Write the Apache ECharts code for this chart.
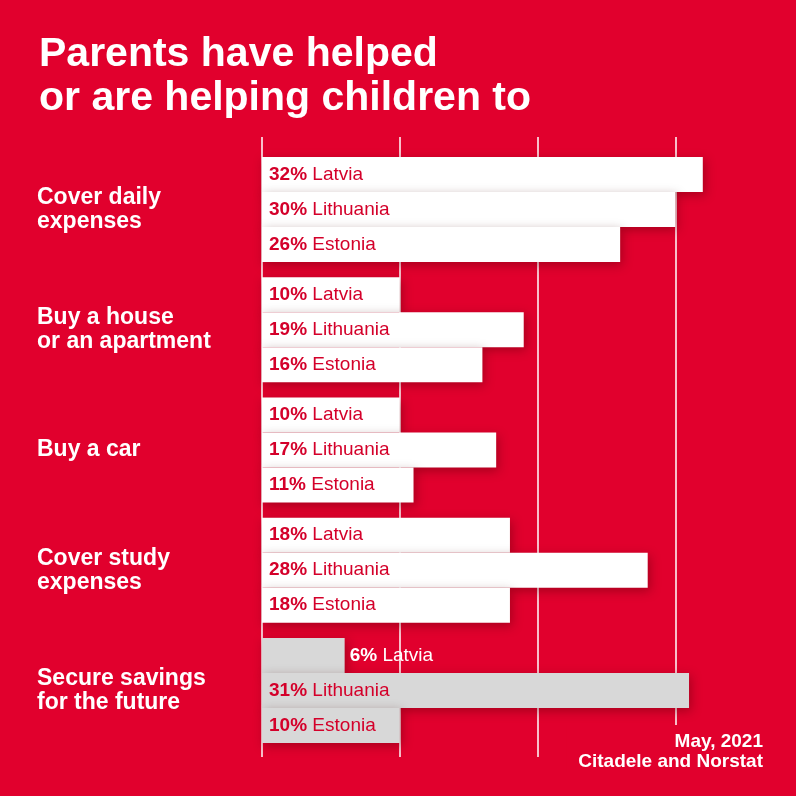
<!DOCTYPE html>
<html><head><meta charset="utf-8">
<script src="https://cdn.jsdelivr.net/npm/echarts@6/dist/echarts.min.js"></script>
<style>html,body{margin:0;padding:0;background:#E1002D;}#c{width:796px;height:796px;}</style>
</head><body><div id="c"></div>
<script>
const categories = ['Cover daily\nexpenses','Buy a house\nor an apartment','Buy a car','Cover study\nexpenses','Secure savings\nfor the future'];
const countries = ['Latvia','Lithuania','Estonia'];
const latvia = [32, 10, 10, 18, 6];
const lithuania = [30, 19, 17, 28, 31];
const estonia = [26, 16, 11, 18, 10];
const xTicks = [0, 10, 20, 30];
const titleText = 'Parents have helped\nor are helping children to';
const sourceText = 'May, 2021\nCitadele and Norstat';

const FONT = 'Liberation Sans, Arial, Helvetica, sans-serif';
const RED = '#E1002D';
const TXT_RED = '#D4002A';
const valuesBySeries = [latvia, lithuania, estonia];

function makeData(vals) {
  return vals.map((v, i) => {
    const item = { value: v };
    if (v < 8) {
      item.label = { position: 'right', distance: 5, rich: { b: { color: '#fff' }, n: { color: '#fff' } } };
    }
    return item;
  });
}

const series = countries.map((name, si) => ({
  name, type: 'bar', xAxisIndex: 0, yAxisIndex: 0,
  barWidth: 35, barGap: '0%',
  data: makeData(valuesBySeries[si]),
  itemStyle: {
    color: p => p.dataIndex === 4 ? '#D8D8D8' : '#FFFFFF',
    shadowColor: 'rgba(60,0,0,0.35)', shadowBlur: 10, shadowOffsetX: 2, shadowOffsetY: 3
  },
  label: {
    show: true, position: 'insideLeft', distance: 7,
    formatter: p => '{b|' + p.value + '%} {n|' + p.seriesName + '}',
    rich: {
      b: { fontFamily: FONT, fontWeight: 'bold', fontSize: 19, color: TXT_RED },
      n: { fontFamily: FONT, fontSize: 19, color: TXT_RED, padding: [0, 0, 0, 2] }
    }
  },
  z: 3
}));

const chart = echarts.init(document.getElementById('c'));
chart.setOption({
  backgroundColor: RED,
  animation: false,
  title: [{
    text: titleText, left: 34, top: 28,
    textStyle: { color: '#fff', fontFamily: FONT, fontWeight: 'bold', fontSize: 41, lineHeight: 44 }
  }],
  graphic: [{
    type: 'text', right: 33, top: 725, z: 100,
    style: { text: sourceText, fill: '#fff', fontFamily: FONT, fontWeight: 'bold', fontSize: 19, lineHeight: 20,
             textAlign: 'right', align: 'right', backgroundColor: RED, padding: [7, 0, 0, 12] }
  }],
  grid: [
    { left: 262, width: 551, top: 149.4, bottom: 45.4, outerBoundsMode: 'none', containLabel: false },
    { left: 262, width: 551, top: 137, bottom: 39, outerBoundsMode: 'none', containLabel: false }
  ],
  xAxis: [
    { gridIndex: 0, type: 'value', min: 0, max: 40, interval: 10, show: false, splitLine: { show: false } },
    { gridIndex: 1, type: 'value', min: xTicks[0], max: 40, interval: xTicks[1] - xTicks[0],
      axisLine: { show: false }, axisTick: { show: false }, axisLabel: { show: false },
      splitLine: { show: true, lineStyle: { color: '#fff', width: 1.5 } } }
  ],
  yAxis: [
    { gridIndex: 0, type: 'category', data: categories, inverse: true,
      axisLine: { show: false }, axisTick: { show: false },
      axisLabel: { align: 'left', margin: 225, color: '#fff', fontFamily: FONT, fontWeight: 'bold', fontSize: 23, lineHeight: 24, padding: [0, 0, 6, 0] } },
    { gridIndex: 1, type: 'category', data: categories, show: false }
  ],
  series
});
</script></body></html>
